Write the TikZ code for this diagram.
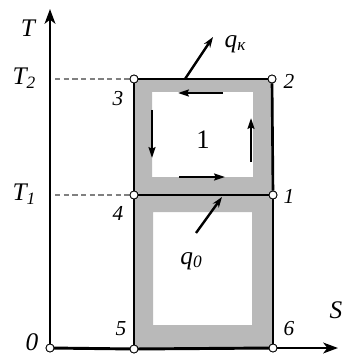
\documentclass[tikz,border=0pt]{standalone}
\usepackage{fontspec}
\setmainfont{Liberation Serif}
\usetikzlibrary{arrows.meta}
\begin{document}
\begin{tikzpicture}[x=0.75pt,y=-0.75pt,
  axis/.style={line width=2.2pt,-{Stealth[length=11pt,width=8pt,inset=3pt]}},
  edge/.style={line width=2pt},
  dash line/.style={gray,line width=1.6pt,dash pattern=on 4pt off 2.5pt},
  pt/.style={circle,draw=black,fill=white,line width=0.6pt,inner sep=0pt,minimum size=6pt},
  band/.style={fill=gray!55,even odd rule},
  flow/.style={line width=1.8pt,-{Stealth[length=8pt,width=5pt,inset=1pt]}},
  heat/.style={line width=1.8pt,-{Stealth[length=8pt,width=5.5pt]}},
  lab/.style={font=\fontsize{16}{16}\selectfont\itshape,inner sep=0pt},
  big/.style={font=\fontsize{19}{19}\selectfont\itshape,inner sep=0pt}]
\useasboundingbox (0,0) rectangle (345,356);
% hatched bands
\path[band] (134,79) rectangle (273,195) (152,92) rectangle (253,177);
\path[band] (134,195) rectangle (273,348) (153,212) rectangle (252,325);
% points
\node[pt] (o) at (50,348) {};
\node[pt] (p3) at (134,79) {};
\node[pt] (p2) at (272,79) {};
\node[pt] (p4) at (134,195) {};
\node[pt] (p1) at (273,195) {};
\node[pt] (p5) at (134,349) {};
\node[pt] (p6) at (273,348) {};
\coordinate (ytop) at (50,9);
\coordinate (xend) at (338,348);
\coordinate (t2) at (55,79);
\coordinate (t1) at (55,195);
% dashed
\draw[dash line] (t2) -- (p3);
\draw[dash line] (t1) -- (p4);
% axes
\draw[axis] (o.center) -- (ytop);
\draw[line width=2.2pt] (o.center) -- (p5.center);
\draw[line width=2.2pt] (p5.center) -- (p6.center);
\draw[axis] (p6.center) -- (xend);
% rectangle
\draw[edge] (p3) -- (p2);
\draw[edge] (p2) -- (p1);
\draw[edge] (p4) -- (p1);
\draw[edge] (p3) -- (p4);
\draw[edge] (p4) -- (p5);
\draw[edge] (p1) -- (p6);
% redraw points on top
\foreach \n in {o,p3,p2,p4,p1,p5,p6} \node[pt] at (\n) {};
% flow arrows
\coordinate (ta) at (223,93); \coordinate (tb) at (178,93);
\coordinate (la) at (152,110); \coordinate (lb) at (152,158);
\coordinate (ra) at (251,162); \coordinate (rb) at (251,118);
\coordinate (ba) at (179,177); \coordinate (bb) at (225,177);
\draw[flow] (ta) -- (tb);
\draw[flow] (la) -- (lb);
\draw[flow] (ra) -- (rb);
\draw[flow] (ba) -- (bb);
% heat arrows
\coordinate (qka) at (185,79); \coordinate (qkb) at (213,37);
\coordinate (q0a) at (196,233); \coordinate (q0b) at (222,197);
\draw[heat] (qka) -- (qkb);
\draw[heat] (q0a) -- (q0b);
% labels
\node[big] (lT) at (28,28) {T};
\node[big] (lT2) at (24,78) {T\raisebox{-0.35ex}{\fontsize{13}{13}\selectfont 2}};
\node[big] (lT1) at (24,194) {T\raisebox{-0.35ex}{\fontsize{13}{13}\selectfont 1}};
\node[big] (lS) at (336,310) {S};
\node[big] (l0) at (32,342) {0};
\node[lab] (l3) at (118,99) {3};
\node[lab] (l2) at (289,81) {2};
\node[lab] (l4) at (118,213) {4};
\node[lab] (l1) at (289,196) {1};
\node[lab] (l5) at (121,329) {5};
\node[lab] (l6) at (289,329) {6};
\node[font=\fontsize{20}{20}\selectfont,inner sep=0pt] (c1) at (203,140) {1};
\node[big] (qk) at (235,44) {q\raisebox{-0.3ex}{\fontsize{13}{13}\selectfont к}};
\node[big] (q0) at (191,261) {q\raisebox{-0.3ex}{\fontsize{13}{13}\selectfont 0}};
\end{tikzpicture}
\end{document}
